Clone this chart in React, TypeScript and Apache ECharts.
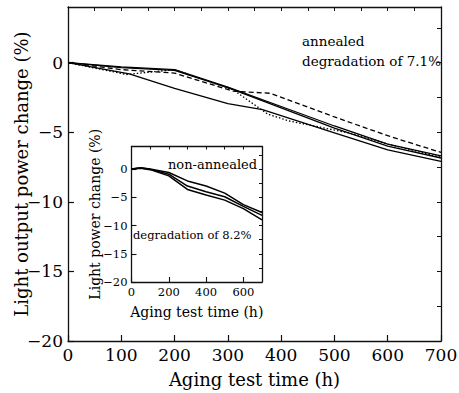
import React, { useEffect, useRef } from "react";
import * as echarts from "echarts";

// ---- Main chart (annealed) ----
const solidA_t = [0, 100, 200, 300, 400, 500, 600, 700];
const solidA_v = [0, -0.3, -0.5, -1.75, -3.15, -4.55, -5.85, -6.7];
const solidB_t = [0, 100, 200, 300, 400, 500, 600, 700];
const solidB_v = [0, -0.35, -0.55, -1.8, -3.25, -4.7, -6.0, -6.85];
const lowerSolid_t = [0, 115, 200, 300, 365, 500, 600, 700];
const lowerSolid_v = [0, -0.8, -1.85, -2.95, -3.38, -5.05, -6.27, -7.1];
const dashed_t = [0, 100, 200, 310, 380, 500, 600, 700];
const dashed_v = [0, -0.5, -0.75, -2.05, -2.2, -3.9, -5.25, -6.45];
const dotted_t = [0, 110, 200, 310, 375, 416, 540, 600, 700];
const dotted_v = [0, -0.85, -0.5, -1.95, -3.7, -4.2, -5.15, -5.85, -6.8];

// ---- Inset (non-annealed) ----
const inset_t = [0, 50, 100, 200, 300, 400, 500, 600, 700];
const insetA_v = [0, 0.25, 0, -0.6, -2.1, -3.0, -4.25, -6.3, -7.7];
const insetB_v = [0, 0.2, -0.05, -0.9, -3.0, -4.0, -4.9, -6.6, -8.2];
const insetC_v = [0, 0.15, -0.1, -1.2, -3.6, -4.6, -5.5, -7.0, -9.0];

const mainXTicks = { min: 0, max: 700, interval: 100 };
const mainYTicks = { min: -20, max: 4, interval: 5 };
const insetXTicks = { min: 0, max: 700, interval: 200 };

const FONT = "DejaVu Serif";

const pairs = (t: number[], v: number[]) => t.map((x, i) => [x, v[i]]);
const minus = (v: number) => String(v).replace("-", "\u2212");

export default function App() {
  const ref = useRef<HTMLDivElement>(null);
  useEffect(() => {
    const chart = echarts.init(ref.current!, null, { renderer: "svg" });
    const axisLine = { show: true, onZero: false, lineStyle: { color: "#111", width: 1.3 } };
    const lbl = (size: number, margin: number, extra: any = {}) => ({
      color: "#000",
      fontFamily: FONT,
      fontSize: size,
      margin,
      formatter: minus,
      ...extra,
    });
    const hidden = { show: false };
    const line = (data: number[][], type: any, xi: number, yi: number, w = 1.3) => ({
      type: "line",
      data,
      xAxisIndex: xi,
      yAxisIndex: yi,
      showSymbol: false,
      symbol: "none",
      lineStyle: { color: "#000", width: w, type },
      silent: true,
    });
    const txt = (text: string, x: number, y: number, size: number) => ({
      type: "text", x, y,
      style: { text, fill: "#000", fontFamily: FONT, fontSize: size, verticalAlign: "middle" },
    });
    chart.setOption({
      animation: false,
      backgroundColor: "#fff",
      textStyle: { fontFamily: FONT },
      grid: [
        { left: 68, top: 7, width: 373, height: 334, containLabel: false, outerBoundsMode: "none" },
        { left: 131.5, top: 146.5, width: 130.5, height: 135.5, containLabel: false, outerBoundsMode: "none" },
      ],
      xAxis: [
        {
          type: "value", gridIndex: 0, position: "bottom", ...mainXTicks,
          axisLine, splitLine: hidden,
          axisTick: { inside: true, length: 6, lineStyle: { color: "#111", width: 1.2 } },
          axisLabel: lbl(17, 5),
          name: "Aging test time (h)", nameLocation: "middle", nameGap: 29, nameMoveOverlap: false,
          nameTextStyle: { color: "#000", fontFamily: FONT, fontSize: 18 },
        },
        {
          type: "value", gridIndex: 0, position: "top", min: 0, max: 700, interval: 50,
          axisLine, splitLine: hidden, axisLabel: hidden,
          axisTick: { inside: true, length: 4, lineStyle: { color: "#111", width: 1 } },
        },
        {
          type: "value", gridIndex: 1, position: "bottom", ...insetXTicks,
          axisLine, splitLine: hidden,
          axisTick: { inside: true, length: 5, lineStyle: { color: "#111", width: 1.1 } },
          axisLabel: lbl(11.5, 4, { showMaxLabel: false }),
          name: "Aging test time (h)", nameLocation: "middle", nameGap: 23, nameMoveOverlap: false,
          nameTextStyle: { color: "#000", fontFamily: FONT, fontSize: 14 },
        },
        {
          type: "value", gridIndex: 1, position: "top", min: 0, max: 700, interval: 100,
          axisLine, splitLine: hidden, axisLabel: hidden,
          axisTick: { inside: true, length: 3, lineStyle: { color: "#111", width: 1 } },
        },
      ],
      yAxis: [
        {
          type: "value", gridIndex: 0, position: "left", ...mainYTicks,
          axisLine, splitLine: hidden,
          axisTick: { inside: true, length: 6, lineStyle: { color: "#111", width: 1.2 } },
          axisLabel: lbl(17, 5, { showMaxLabel: false }),
          name: "Light output power change (%)", nameLocation: "middle", nameGap: 38, nameMoveOverlap: false,
          nameRotate: 90,
          nameTextStyle: { color: "#000", fontFamily: FONT, fontSize: 18 },
        },
        {
          type: "value", gridIndex: 0, position: "right", min: -20, max: 4, interval: 2.5,
          axisLine, splitLine: hidden, axisLabel: hidden,
          axisTick: { inside: true, length: 4, lineStyle: { color: "#111", width: 1 } },
        },
        {
          type: "value", gridIndex: 1, position: "left", ...mainYTicks,
          axisLine, splitLine: hidden,
          axisTick: { inside: true, length: 5, lineStyle: { color: "#111", width: 1.1 } },
          axisLabel: lbl(11.5, 4, { showMaxLabel: false }),
          name: "Light power change (%)", nameLocation: "middle", nameGap: 30, nameMoveOverlap: false,
          nameRotate: 90,
          nameTextStyle: { color: "#000", fontFamily: FONT, fontSize: 14 },
        },
        {
          type: "value", gridIndex: 1, position: "right", min: -20, max: 4, interval: 2.5,
          axisLine, splitLine: hidden, axisLabel: hidden,
          axisTick: { inside: true, length: 3, lineStyle: { color: "#111", width: 1 } },
        },
      ],
      series: [
        line(pairs(solidA_t, solidA_v), "solid", 0, 0),
        line(pairs(solidB_t, solidB_v), "solid", 0, 0),
        line(pairs(lowerSolid_t, lowerSolid_v), "solid", 0, 0),
        line(pairs(dashed_t, dashed_v), [5, 3], 0, 0),
        line(pairs(dotted_t, dotted_v), [1.5, 2], 0, 0),
        line(pairs(inset_t, insetA_v), "solid", 2, 2, 1.5),
        line(pairs(inset_t, insetB_v), "solid", 2, 2, 1.5),
        line(pairs(inset_t, insetC_v), "solid", 2, 2, 1.5),
      ],
      graphic: [
        txt("annealed", 302, 41, 13.5),
        txt("degradation of 7.1%", 302, 61, 13.5),
        txt("non-annealed", 168, 164, 13),
        txt("degradation of 8.2%", 133, 235, 11.5),
      ],
    });
    return () => chart.dispose();
  }, []);
  return <div ref={ref} style={{ position: "fixed", left: 0, top: 0, width: 459, height: 393 }} />;
}
